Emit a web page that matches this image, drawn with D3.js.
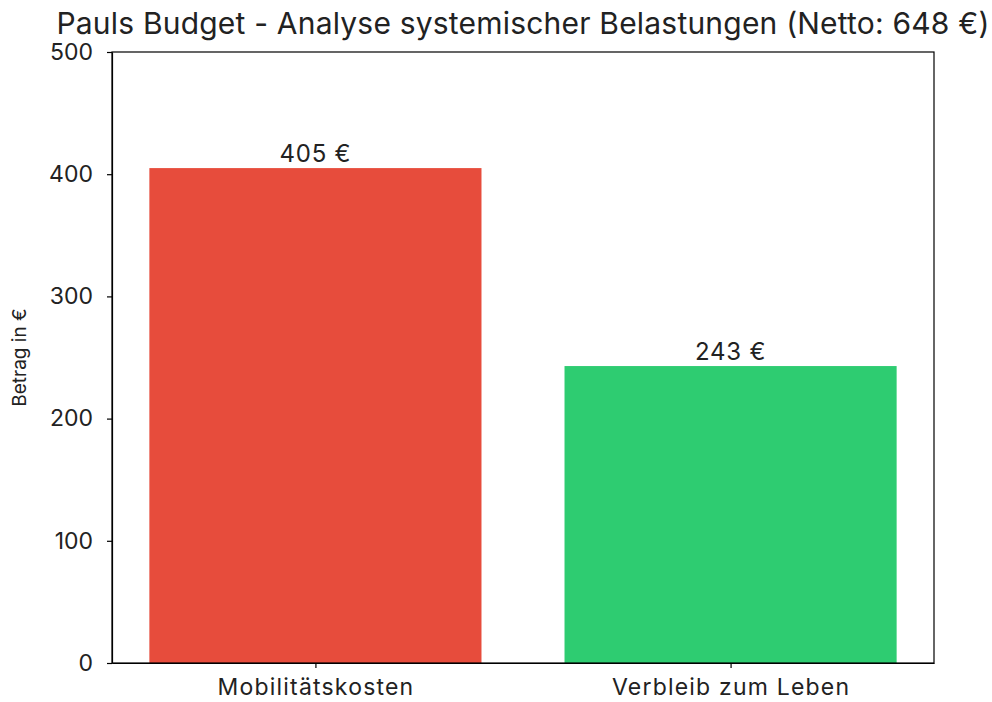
<!DOCTYPE html>
<html lang="de">
<head>
<meta charset="UTF-8">
<title>Pauls Budget</title>
<script src="https://d3js.org/d3.v7.min.js"></script>
<style>
  body { margin: 0; background: #fff; font-family: Inter, "Open Sans", sans-serif; }
  .axis text { font-size: 23px; fill: #222; font-family: Inter, sans-serif; }
  .xaxis text { letter-spacing: 1.2px; }
  .axis path, .axis line { stroke: #000; stroke-width: 1.2; }
</style>
</head>
<body>
<div id="chart"></div>
<script>
  // data
  const categories = ["Mobilitätskosten", "Verbleib zum Leben"];
  const values = [405, 243];
  const colors = ["#e74c3c", "#2ecc71"];
  const yTicks = [0, 100, 200, 300, 400, 500];
  const titleText = "Pauls Budget - Analyse systemischer Belastungen (Netto: 648 €)";

  const W = 992, H = 702;
  const margin = {top: 52, right: 58, bottom: 39, left: 112};
  const width = W - margin.left - margin.right,
        height = H - margin.top - margin.bottom;

  const svg = d3.select("#chart").append("svg")
    .attr("width", W).attr("height", H);
  const g = svg.append("g")
    .attr("transform", `translate(${margin.left},${margin.top})`);

  // x like matplotlib: bars width 0.8 with 5% margins
  const x = d3.scaleLinear().domain([-0.49, 1.49]).range([0, width]);
  const y = d3.scaleLinear().domain([0, 500]).range([height, 0]);
  const barW = 0.8;

  g.selectAll("rect.bar")
    .data(values)
    .join("rect")
    .attr("class", "bar")
    .attr("x", (d, i) => x(i - barW / 2))
    .attr("width", x(barW) - x(0))
    .attr("y", d => y(d))
    .attr("height", d => height - y(d))
    .attr("fill", (d, i) => colors[i]);

  // value labels
  g.selectAll("text.val")
    .data(values)
    .join("text")
    .attr("class", "val")
    .attr("x", (d, i) => x(i))
    .attr("y", d => y(d) - 6)
    .attr("text-anchor", "middle")
    .style("font-size", "24px")
    .style("letter-spacing", "0.8px")
    .style("fill", "#222")
    .text(d => `${d} €`);

  // axes
  g.append("g").attr("class", "axis xaxis")
    .attr("transform", `translate(0,${height})`)
    .call(d3.axisBottom(x).tickValues([0, 1]).tickFormat(i => categories[i])
      .tickSize(5).tickPadding(11).tickSizeOuter(0));

  g.append("g").attr("class", "axis")
    .call(d3.axisLeft(y).tickValues(yTicks).tickSize(5).tickPadding(14).tickSizeOuter(0));

  // frame
  g.append("rect")
    .attr("width", width).attr("height", height)
    .attr("fill", "none").attr("stroke", "#000").attr("stroke-width", 1.2);

  // y label
  g.append("text")
    .attr("transform", "rotate(-90)")
    .attr("x", -height / 2)
    .attr("y", -86)
    .attr("text-anchor", "middle")
    .style("font-size", "19px")
    .style("fill", "#222")
    .text("Betrag in €");

  // title
  g.append("text")
    .attr("x", width / 2)
    .attr("y", -18)
    .attr("text-anchor", "middle")
    .style("font-size", "30px")
    .style("letter-spacing", "0.2px")
    .style("fill", "#222")
    .text(titleText);
</script>
</body>
</html>
